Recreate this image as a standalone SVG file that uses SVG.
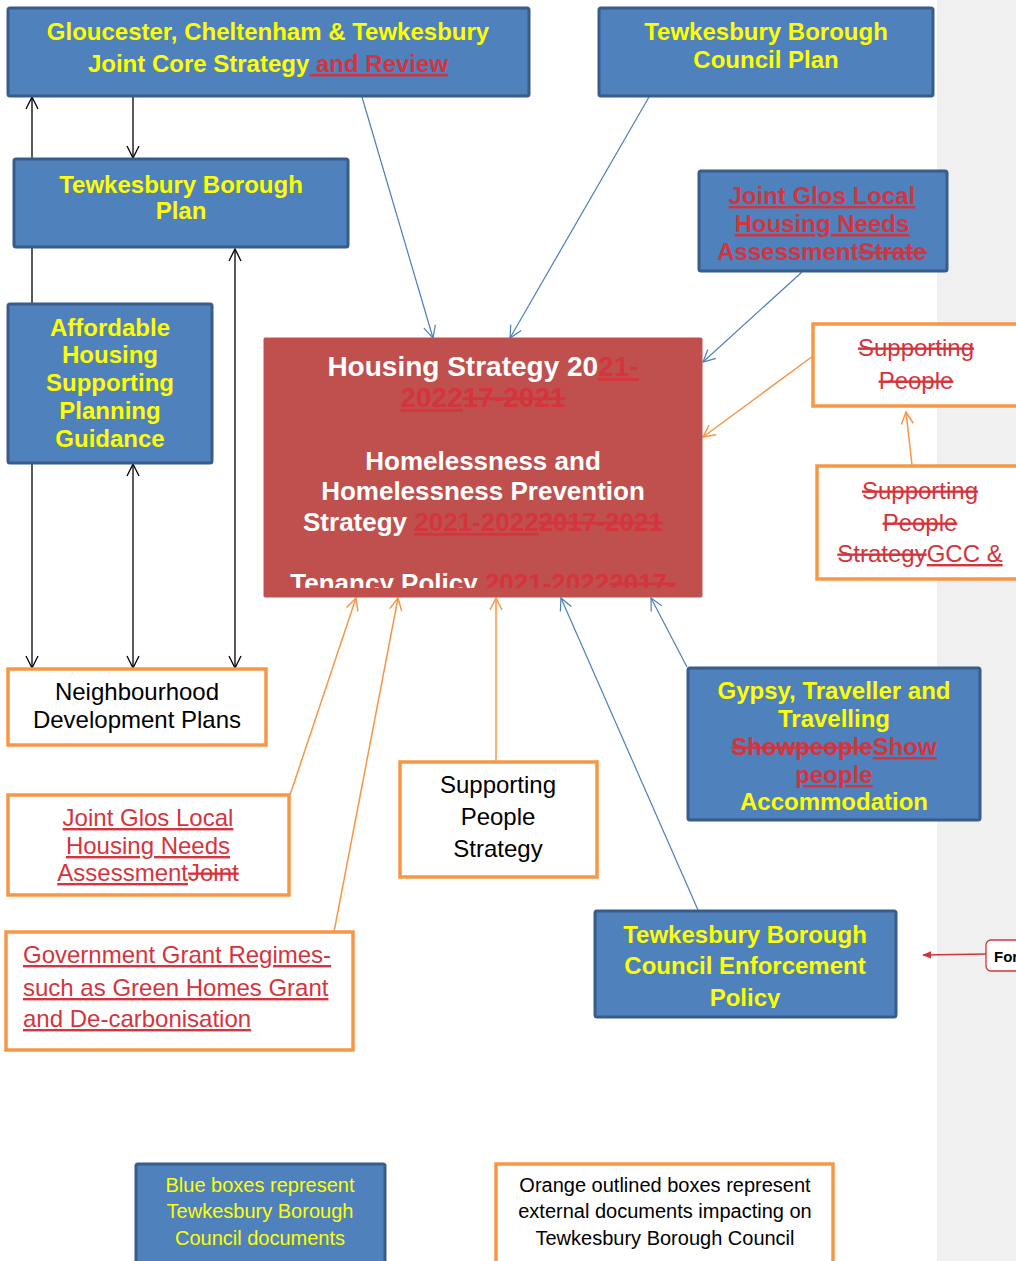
<svg xmlns="http://www.w3.org/2000/svg" width="1016" height="1261" viewBox="0 0 1016 1261">
<style>
.blue{fill:#4f81bd;stroke:#385d8a;stroke-width:3}
.orng{fill:#fff;stroke:#f79646;stroke-width:3.5}
.t{font-family:"Liberation Sans",Arial,sans-serif;text-anchor:middle}
.b{font-weight:bold}
.y{fill:#ffff00}
.w{fill:#fff}
.k{fill:#000}
.r{fill:#d5343c}
.u{text-decoration:underline}
.s{text-decoration:line-through}
.f24{font-size:24px}
.f26{font-size:26px}
.f28{font-size:28px}
.f20{font-size:20px}
.ck{stroke:#000;stroke-width:1.3;fill:none}
.cb{stroke:#4a7ebb;stroke-width:1.2;fill:none}
.co{stroke:#f79646;stroke-width:1.5;fill:none}
</style>
<defs>
<marker id="ak" viewBox="0 0 14 14" refX="13" refY="7" markerWidth="14" markerHeight="14" markerUnits="userSpaceOnUse" orient="auto-start-reverse"><path d="M1,1 L13,7 L1,13" fill="none" stroke="#000" stroke-width="1.3"/></marker>
<marker id="ab" viewBox="0 0 14 14" refX="13" refY="7" markerWidth="14" markerHeight="14" markerUnits="userSpaceOnUse" orient="auto"><path d="M1,1 L13,7 L1,13" fill="none" stroke="#4a7ebb" stroke-width="1.2"/></marker>
<marker id="ao" viewBox="0 0 14 14" refX="13" refY="7" markerWidth="14" markerHeight="14" markerUnits="userSpaceOnUse" orient="auto"><path d="M1,1 L13,7 L1,13" fill="none" stroke="#f79646" stroke-width="1.5"/></marker>
<marker id="ar" viewBox="0 0 10 10" refX="9" refY="5" markerWidth="9" markerHeight="9" markerUnits="userSpaceOnUse" orient="auto"><path d="M0,1 L10,5 L0,9 Z" fill="#d13438"/></marker>
<clipPath id="clipMain"><rect x="264" y="338" width="438" height="250"/></clipPath>
<clipPath id="clipEnf"><rect x="595" y="911" width="301" height="97"/></clipPath>
</defs>

<rect x="0" y="0" width="1016" height="1261" fill="#fff"/>
<rect x="937" y="0" width="79" height="1261" fill="#f0f0f0"/>

<g id="connectors">
<line class="ck" x1="32" y1="97" x2="32" y2="668" marker-start="url(#ak)" marker-end="url(#ak)"/>
<line class="ck" x1="133" y1="97" x2="133" y2="158" marker-end="url(#ak)"/>
<line class="ck" x1="133" y1="464" x2="133" y2="668" marker-start="url(#ak)" marker-end="url(#ak)"/>
<line class="ck" x1="235" y1="249" x2="235" y2="668" marker-start="url(#ak)" marker-end="url(#ak)"/>
<line class="cb" x1="362" y1="97" x2="433" y2="338" marker-end="url(#ab)"/>
<line class="cb" x1="649" y1="97" x2="510" y2="338" marker-end="url(#ab)"/>
<line class="cb" x1="802" y1="272" x2="703" y2="362" marker-end="url(#ab)"/>
<line class="cb" x1="687" y1="667" x2="651" y2="598" marker-end="url(#ab)"/>
<line class="cb" x1="698" y1="910" x2="561" y2="598" marker-end="url(#ab)"/>
<line class="co" x1="813" y1="356" x2="703" y2="437" marker-end="url(#ao)"/>
<line class="co" x1="912" y1="465" x2="906" y2="412" marker-end="url(#ao)"/>
<line class="co" x1="290" y1="795" x2="356" y2="598" marker-end="url(#ao)"/>
<line class="co" x1="334" y1="932" x2="398" y2="598" marker-end="url(#ao)"/>
<line class="co" x1="496" y1="762" x2="496" y2="598" marker-end="url(#ao)"/>
<line x1="986" y1="954" x2="923" y2="955" stroke="#d13438" stroke-width="1.3" marker-end="url(#ar)"/>
</g>

<g id="jcs">
<rect class="blue" x="8" y="8" width="521" height="88" rx="2"/>
<text class="t b f24 y" x="268" y="40">Gloucester, Cheltenham &amp; Tewkesbury</text>
<text class="t b f24" x="268" y="72"><tspan class="y">Joint Core Strategy</tspan><tspan class="r u"> and Review</tspan></text>
</g>

<g id="tbc-plan">
<rect class="blue" x="599" y="8" width="334" height="88" rx="2"/>
<text class="t b f24 y" x="766" y="40">Tewkesbury Borough</text>
<text class="t b f24 y" x="766" y="68">Council Plan</text>
</g>

<g id="tb-plan">
<rect class="blue" x="14" y="159" width="334" height="88" rx="2"/>
<text class="t b f24 y" x="181" y="193">Tewkesbury Borough</text>
<text class="t b f24 y" x="181" y="219">Plan</text>
</g>

<g id="affordable">
<rect class="blue" x="8" y="304" width="204" height="159" rx="2"/>
<text class="t b f24 y" x="110" y="336">Affordable</text>
<text class="t b f24 y" x="110" y="363">Housing</text>
<text class="t b f24 y" x="110" y="391">Supporting</text>
<text class="t b f24 y" x="110" y="419">Planning</text>
<text class="t b f24 y" x="110" y="447">Guidance</text>
</g>

<g id="glos-lhna-blue">
<rect class="blue" x="699" y="171" width="248" height="100" rx="2"/>
<text class="t b f24 r" x="822" y="204"><tspan class="u">Joint Glos Local</tspan></text>
<text class="t b f24 r" x="822" y="232"><tspan class="u">Housing Needs</tspan></text>
<text class="t b f24 r" x="822" y="260"><tspan>Assessment</tspan><tspan class="s">Strate</tspan></text>
</g>

<g id="main">
<rect x="264" y="338" width="438" height="259" fill="#c0504d" stroke="#c0504d" stroke-width="1" rx="1"/>
<g clip-path="url(#clipMain)">
<text class="t b f28" x="483" y="376"><tspan class="w">Housing Strategy 20</tspan><tspan class="r u">21-</tspan></text>
<text class="t b f28 r" x="483" y="407"><tspan class="u">2022</tspan><tspan class="s">17-2021</tspan></text>
<text class="t b f26 w" x="483" y="470">Homelessness and</text>
<text class="t b f26 w" x="483" y="500">Homelessness Prevention</text>
<text class="t b f26" x="483" y="531"><tspan class="w">Strategy </tspan><tspan class="r u">2021-2022</tspan><tspan class="r s">2017-2021</tspan></text>
<text class="t b f26" x="483" y="592"><tspan class="w">Tenancy Policy </tspan><tspan class="r u">2021-2022</tspan><tspan class="r s">2017-</tspan></text>
</g>
</g>

<g id="sp-top">
<rect class="orng" x="813" y="324" width="230" height="82"/>
<text class="t f24 r" x="916" y="356"><tspan class="s">Supporting</tspan></text>
<text class="t f24 r" x="916" y="389"><tspan class="s">People</tspan></text>
</g>

<g id="sp-gcc">
<rect class="orng" x="817" y="466" width="230" height="113"/>
<text class="t f24 r" x="920" y="499"><tspan class="s">Supporting</tspan></text>
<text class="t f24 r" x="920" y="531"><tspan class="s">People</tspan></text>
<text class="t f24 r" x="920" y="562"><tspan class="s">Strategy</tspan><tspan class="u">GCC &amp;</tspan></text>
</g>

<g id="ndp">
<rect class="orng" x="8" y="669" width="258" height="76"/>
<text class="t f24 k" x="137" y="700">Neighbourhood</text>
<text class="t f24 k" x="137" y="728">Development Plans</text>
</g>

<g id="glos-lhna-orange">
<rect class="orng" x="8" y="795" width="281" height="100"/>
<text class="t f24 r" x="148" y="826"><tspan class="u">Joint Glos Local</tspan></text>
<text class="t f24 r" x="148" y="854"><tspan class="u">Housing Needs</tspan></text>
<text class="t f24 r" x="148" y="881"><tspan class="u">Assessment</tspan><tspan class="s">Joint</tspan></text>
</g>

<g id="gov-grant">
<rect class="orng" x="6" y="932" width="347" height="118"/>
<text class="f24 r u" font-family="Liberation Sans, Arial, sans-serif" x="23" y="963">Government Grant Regimes-</text>
<text class="f24 r u" font-family="Liberation Sans, Arial, sans-serif" x="23" y="996">such as Green Homes Grant</text>
<text class="f24 r u" font-family="Liberation Sans, Arial, sans-serif" x="23" y="1027">and De-carbonisation</text>
</g>

<g id="sp-strategy">
<rect class="orng" x="400" y="762" width="197" height="115"/>
<text class="t f24 k" x="498" y="793">Supporting</text>
<text class="t f24 k" x="498" y="825">People</text>
<text class="t f24 k" x="498" y="857">Strategy</text>
</g>

<g id="gypsy">
<rect class="blue" x="688" y="668" width="292" height="152" rx="2"/>
<text class="t b f24 y" x="834" y="699">Gypsy, Traveller and</text>
<text class="t b f24 y" x="834" y="727">Travelling</text>
<text class="t b f24 r" x="834" y="755"><tspan class="s">Showpeople</tspan><tspan class="u">Show</tspan></text>
<text class="t b f24 r" x="834" y="783"><tspan class="u">people</tspan></text>
<text class="t b f24 y" x="834" y="810">Accommodation</text>
</g>

<g id="enforcement">
<rect class="blue" x="595" y="911" width="301" height="106" rx="2"/>
<g clip-path="url(#clipEnf)">
<text class="t b f24 y" x="745" y="943">Tewkesbury Borough</text>
<text class="t b f24 y" x="745" y="974">Council Enforcement</text>
<text class="t b f24 y" x="745" y="1006">Policy</text>
</g>
</g>

<g id="comment">
<rect x="986" y="940" width="50" height="31" rx="5" fill="#fff" stroke="#d13438" stroke-width="1.3"/>
<text x="994" y="962" font-family="Liberation Sans, Arial, sans-serif" font-size="15" font-weight="bold" fill="#000">For</text>
</g>

<g id="legend-blue">
<rect class="blue" x="136" y="1164" width="249" height="110" rx="2"/>
<text class="t f20 y" x="260" y="1192">Blue boxes represent</text>
<text class="t f20 y" x="260" y="1218">Tewkesbury Borough</text>
<text class="t f20 y" x="260" y="1245">Council documents</text>
</g>

<g id="legend-orange">
<rect class="orng" x="496" y="1164" width="337" height="110"/>
<text class="t f20 k" x="665" y="1192">Orange outlined boxes represent</text>
<text class="t f20 k" x="665" y="1218">external documents impacting on</text>
<text class="t f20 k" x="665" y="1245">Tewkesbury Borough Council</text>
</g>
</svg>
